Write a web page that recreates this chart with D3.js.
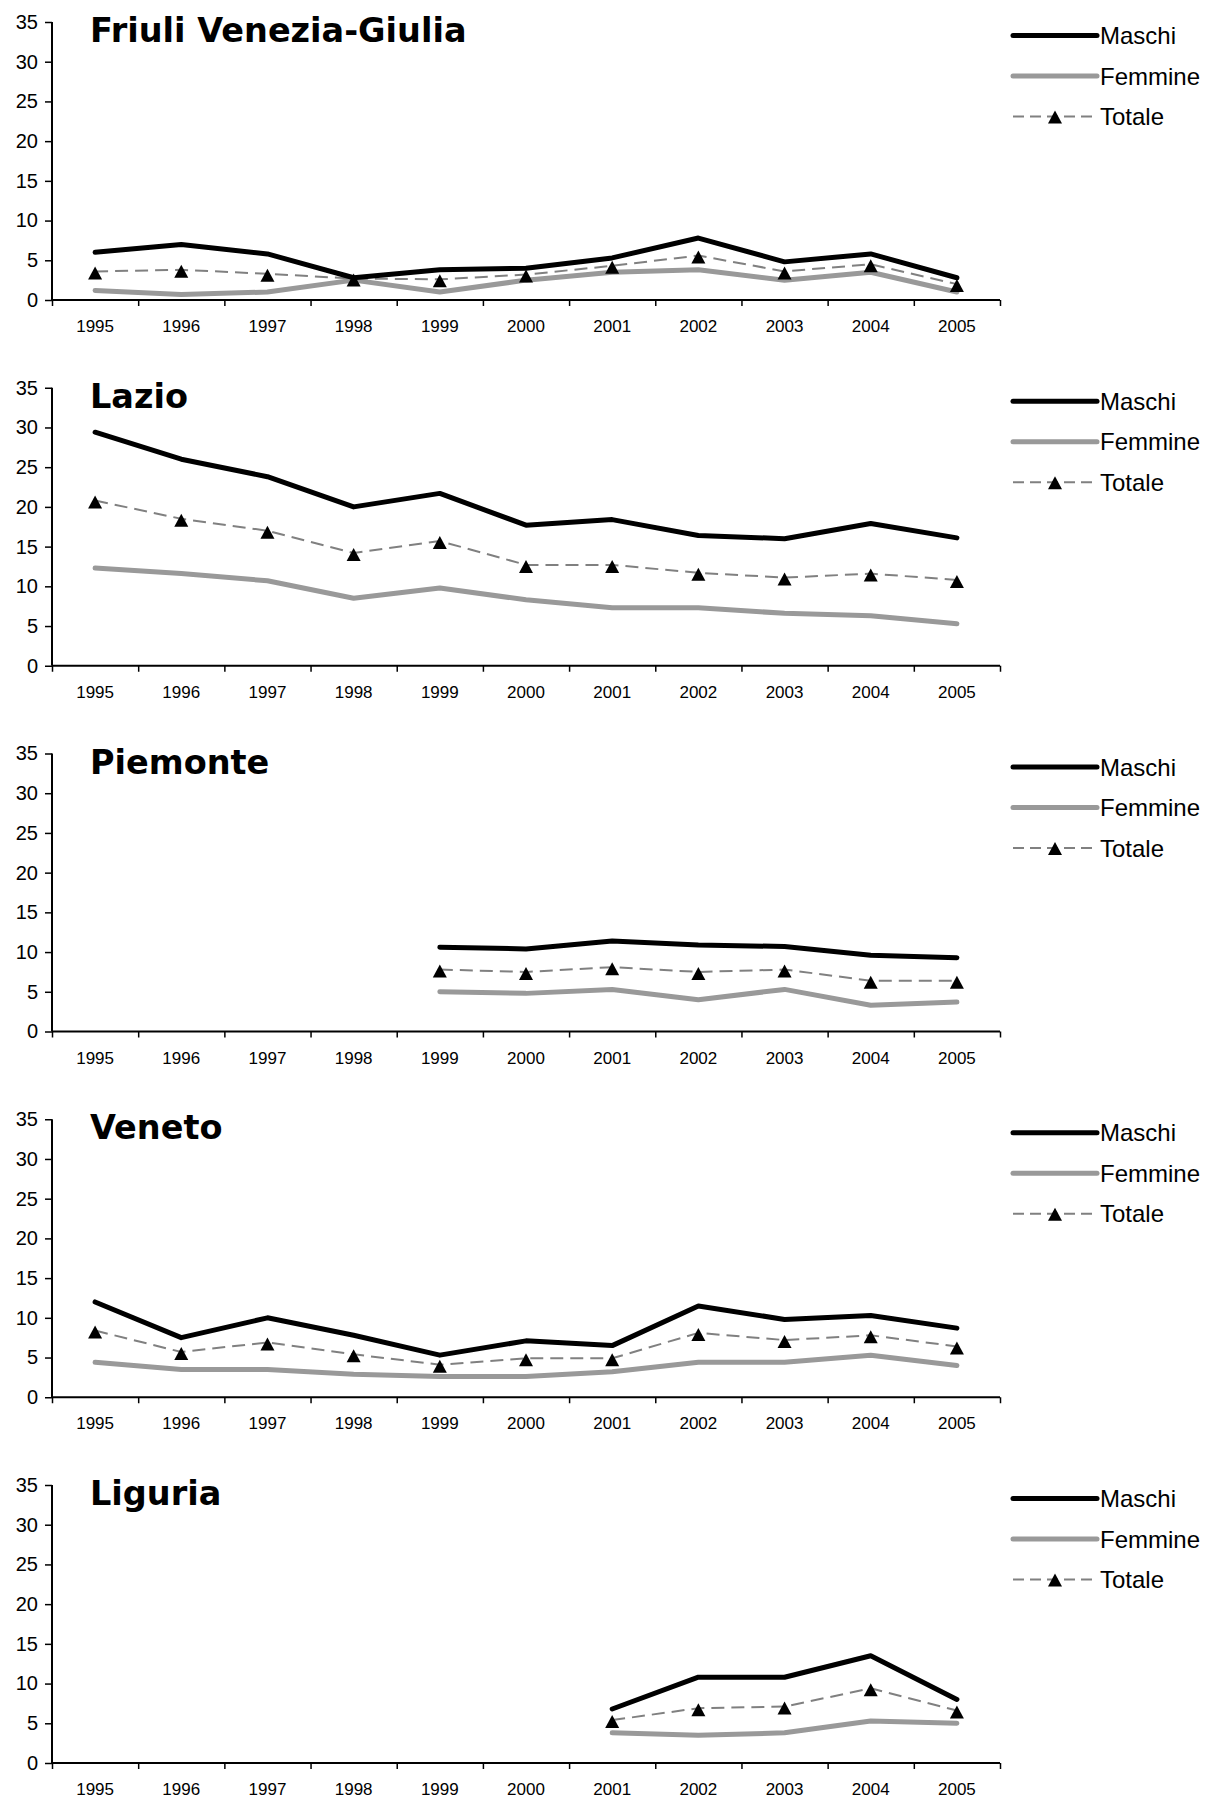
<!DOCTYPE html>
<html>
<head>
<meta charset="utf-8">
<script src="https://cdn.jsdelivr.net/npm/d3@7"></script>
<style>
  body { margin: 0; background: #fff; }
  .title { font-family: "DejaVu Sans", Verdana, sans-serif; font-weight: bold; font-size: 33.5px; }
  .ylab { font-family: "Liberation Sans", Arial, sans-serif; font-size: 20px; }
  .xlab { font-family: "Liberation Sans", Arial, sans-serif; font-size: 17px; }
  .leg { font-family: "Liberation Sans", Arial, sans-serif; font-size: 24px; }
</style>
</head>
<body>
<svg id="chart"></svg>
<script>
const years = ["1995", "1996", "1997", "1998", "1999", "2000", "2001", "2002", "2003", "2004", "2005"];
const regions = ["Friuli Venezia-Giulia", "Lazio", "Piemonte", "Veneto", "Liguria"];
const yTicks = [0, 5, 10, 15, 20, 25, 30, 35];
const seriesNames = ["Maschi", "Femmine", "Totale"];

// one row per region, one value per year (null = no data)
const maschi = [
  [6.0, 7.0, 5.8, 2.8, 3.8, 4.0, 5.3, 7.8, 4.8, 5.8, 2.8],
  [29.4, 26.0, 23.8, 20.0, 21.7, 17.7, 18.4, 16.4, 16.0, 17.9, 16.1],
  [null, null, null, null, 10.6, 10.4, 11.4, 10.9, 10.7, 9.6, 9.3],
  [12.0, 7.5, 10.0, 7.8, 5.3, 7.1, 6.5, 11.5, 9.8, 10.3, 8.7],
  [null, null, null, null, null, null, 6.8, 10.8, 10.8, 13.5, 8.0]
];
const femmine = [
  [1.2, 0.7, 1.0, 2.5, 1.0, 2.5, 3.5, 3.8, 2.5, 3.5, 1.0],
  [12.3, 11.6, 10.7, 8.5, 9.8, 8.3, 7.3, 7.3, 6.6, 6.3, 5.3],
  [null, null, null, null, 5.0, 4.8, 5.3, 4.0, 5.3, 3.3, 3.7],
  [4.4, 3.5, 3.5, 2.9, 2.6, 2.6, 3.2, 4.4, 4.4, 5.3, 4.0],
  [null, null, null, null, null, null, 3.8, 3.5, 3.8, 5.3, 5.0]
];
const totale = [
  [3.6, 3.8, 3.3, 2.7, 2.6, 3.2, 4.3, 5.6, 3.6, 4.5, 2.0],
  [20.8, 18.5, 17.0, 14.2, 15.7, 12.7, 12.7, 11.7, 11.1, 11.6, 10.8],
  [null, null, null, null, 7.8, 7.5, 8.1, 7.5, 7.8, 6.4, 6.4],
  [8.4, 5.7, 6.9, 5.4, 4.1, 4.9, 4.9, 8.1, 7.2, 7.8, 6.4],
  [null, null, null, null, null, null, 5.4, 6.9, 7.1, 9.4, 6.6]
];

const W = 1208, H = 1800;
const X0 = 52, X1 = 1000;
const FIRST_BASE = 300, PANEL_STEP = 365.75, PLOT_H = 278;

const svg = d3.select("#chart").attr("width", W).attr("height", H);

const x = d3.scaleBand().domain(years).range([X0, X1]);
const xEdge = d3.scaleLinear().domain([0, years.length]).range([X0, X1]);
const cx = d => x(d) + x.bandwidth() / 2;

const styles = [
  { stroke: "#000", width: 5, dash: null },
  { stroke: "#999", width: 5, dash: null },
  { stroke: "#808080", width: 2, dash: "13,7" }
];

function tri(px, py) {
  return `M${px},${py - 6}L${px + 7},${py + 7}L${px - 7},${py + 7}Z`;
}

regions.forEach((name, ri) => {
  const base = FIRST_BASE + ri * PANEL_STEP;
  const y = d3.scaleLinear().domain([0, 35]).range([base, base - PLOT_H]);
  const g = svg.append("g");

  // y axis
  const ya = g.append("g").attr("transform", `translate(${X0},0)`)
    .call(d3.axisLeft(y).tickValues(yTicks).tickSize(7).tickPadding(7));
  ya.select(".domain").attr("stroke-width", 2).attr("d", `M0,${base}V${base - PLOT_H}`);
  ya.selectAll(".tick line").attr("stroke-width", 1.5);
  ya.selectAll("text").attr("class", "ylab").attr("font-size", null).attr("font-family", null).attr("fill", "#000");

  // x axis: ticks at category boundaries
  const xa = g.append("g").attr("transform", `translate(0,${base})`)
    .call(d3.axisBottom(xEdge).tickValues(d3.range(years.length + 1)).tickSize(6).tickFormat(""));
  xa.select(".domain").attr("stroke-width", 2).attr("d", `M${X0},0H${X1}`);
  xa.selectAll(".tick line").attr("stroke-width", 1.5);

  const xl = g.append("g").attr("transform", `translate(0,${base})`)
    .call(d3.axisBottom(x).tickSize(0).tickPadding(20));
  xl.select(".domain").remove();
  xl.selectAll("text").attr("class", "xlab").attr("font-size", null).attr("font-family", null).attr("fill", "#000");

  // title
  g.append("text").attr("class", "title").attr("x", 90).attr("y", base - 258).text(name);

  // series
  const data = [maschi[ri], femmine[ri], totale[ri]];
  const line = d3.line()
    .defined(d => d[1] != null)
    .x(d => cx(d[0]))
    .y(d => y(d[1]));

  [1, 2, 0].forEach(si => {
    const pts = years.map((yr, i) => [yr, data[si][i]]);
    const st = styles[si];
    g.append("path")
      .attr("d", line(pts))
      .attr("fill", "none")
      .attr("stroke", st.stroke)
      .attr("stroke-width", st.width)
      .attr("stroke-linejoin", "round")
      .attr("stroke-linecap", si === 2 ? "butt" : "round")
      .attr("stroke-dasharray", st.dash);
    if (si === 2) {
      g.selectAll(null).data(pts.filter(d => d[1] != null)).join("path")
        .attr("d", d => tri(cx(d[0]), y(d[1]) + 1))
        .attr("fill", "#000");
    }
  });

  // legend
  const lg = g.append("g");
  seriesNames.forEach((s, i) => {
    const ly = base - 264.5 + i * 40.5;
    const st = styles[i];
    lg.append("line")
      .attr("x1", 1013).attr("x2", 1097).attr("y1", ly).attr("y2", ly)
      .attr("stroke", st.stroke).attr("stroke-width", st.width)
      .attr("stroke-linecap", i === 2 ? "butt" : "round")
      .attr("stroke-dasharray", i === 2 ? "11,6" : null);
    if (i === 2) lg.append("path").attr("d", tri(1055, ly)).attr("fill", "#000");
    lg.append("text").attr("class", "leg").attr("x", 1100).attr("y", ly).attr("dy", "0.36em").text(s);
  });
});
</script>
</body>
</html>
